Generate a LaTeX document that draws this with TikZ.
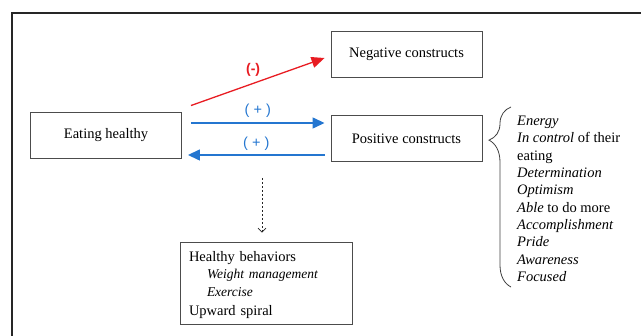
\documentclass[tikz,border=0pt]{standalone}
\usepackage{fontspec}
\setmainfont{Liberation Serif}
\setsansfont{Liberation Sans}
\usepackage{xcolor}
\usetikzlibrary{arrows.meta, positioning, decorations.pathreplacing}

\definecolor{plusblue}{RGB}{36,118,208}
\definecolor{minusred}{RGB}{232,28,34}

\begin{document}
\begin{tikzpicture}[
    x=1pt, y=-1pt,
    every node/.style={font=\fontsize{14.5}{17.3}\selectfont},
    box/.style={draw=black!70, line width=0.9pt, minimum width=151pt, minimum height=46pt, inner sep=0pt},
    posarrow/.style={draw=plusblue, line width=1.4pt, -{Triangle[length=12pt, width=11pt]}},
    negarrow/.style={draw=minusred, line width=1.3pt, -{Triangle[length=13pt, width=11pt]}},
    sign/.style={font=\sffamily\fontsize{14.5}{16}\selectfont, inner sep=1pt},
    dasharrow/.style={draw=black!85, line width=0.6pt, dash pattern=on 2.5pt off 1.5pt, -{Straight Barb[length=4pt, width=8pt]}}
]
\useasboundingbox (0,0) rectangle (641,336);
\draw[line width=1.1pt, black!85] (12,13) rectangle (660,350);

% boxes
\node[box] (eat) at (106,135.5) {Eating healthy};
\node[box] (neg) at (406.5,54.5) {Negative constructs};
\node[box] (pos) at (406.5,138.5) {Positive constructs};
\node[draw=black!70, line width=0.9pt, text width=154pt, inner xsep=9pt, minimum height=82pt, align=left] (hb) at (266,283)
    {\rule{0pt}{14.5pt}Healthy behaviors\\[-1pt]
     \hspace*{18pt}{\itshape\fontsize{13.5}{17}\selectfont Weight management}\\[1pt]
     \hspace*{18pt}{\itshape\fontsize{13.5}{17}\selectfont Exercise}\\[2pt]
     Upward spiral};

% connectors
\draw[negarrow] ([xshift=9pt, yshift=6.5pt]eat.north east) -- ([xshift=-6pt, yshift=-3.5pt]neg.west)
    node[sign, midway, above left=4pt and -4pt, text=minusred, font=\sffamily\bfseries\fontsize{14}{15}\selectfont] {(-)};
\draw[posarrow] ([xshift=9pt, yshift=12.5pt]eat.east) -- ([xshift=-6pt, yshift=15.5pt]pos.west)
    node[sign, midway, above=4pt, text=plusblue] {( + )};
\draw[posarrow] ([xshift=-6pt, yshift=-16.5pt]pos.west) -- ([xshift=6pt, yshift=-19.5pt]eat.east)
    node[sign, midway, above=3pt, text=plusblue] {( + )};

\coordinate (dashtop) at (262,178);
\draw[dasharrow] (dashtop) -- ([xshift=-4pt, yshift=9pt]hb.north);

% brace with the list
\draw[black!75, line width=0.8pt, decorate, decoration={brace, amplitude=22pt, aspect=0.816}]
    (511,287) -- (511,107);
\node[anchor=north west, align=left, inner sep=0pt] (list) at (517,116)
    {\textit{Energy}\\
     \textit{In control} of their\\
     eating\\
     \textit{Determination}\\
     \textit{Optimism}\\
     \textit{Able} to do more\\
     \textit{Accomplishment}\\
     \textit{Pride}\\
     \textit{Awareness}\\
     \textit{Focused}};
\end{tikzpicture}
\end{document}
